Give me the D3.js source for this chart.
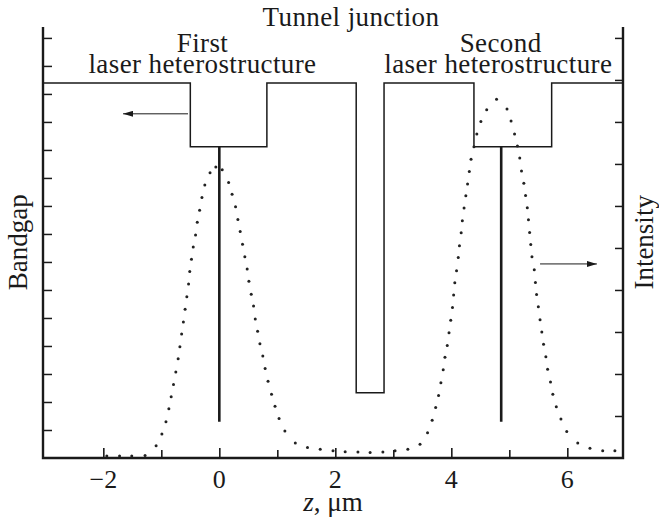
<!DOCTYPE html>
<html>
<head>
<meta charset="utf-8">
<script src="https://cdn.jsdelivr.net/npm/d3@7"></script>
<style>
body { margin: 0; background: #fff; }
text { font-family: "Liberation Serif", "Times New Roman", serif; fill: #1a1a1a; }
</style>
</head>
<body>
<script>
// bandgap profile (step corners), z in um, bandgap in arbitrary units
var bandZ = [-3.04, -0.5, -0.5, 0.82, 0.82, 2.36, 2.36, 2.84, 2.84, 4.39, 4.39, 5.73, 5.73, 6.96];
var bandE = [13.39, 13.39, 11.11, 11.11, 13.39, 13.39, 2.33, 2.33, 13.39, 13.39, 11.11, 11.11, 13.39, 13.39];

// active regions (solid vertical lines)
var wellZ = [0, 4.86];
var wellTop = 11.11, wellBottom = 1.29;

// intensity, read dot by dot
var intZ = [-1.94, -1.72, -1.51, -1.28, -1.09, -0.99, -0.92, -0.87, -0.83, -0.79, -0.75, -0.71, -0.68, -0.65, -0.62, -0.59,
    -0.56, -0.53, -0.51, -0.48, -0.45, -0.41, -0.38, -0.34, -0.30, -0.25, -0.16, -0.06, 0.05, 0.16, 0.22, 0.28, 0.32, 0.36,
    0.40, 0.44, 0.48, 0.51, 0.55, 0.59, 0.62, 0.66, 0.70, 0.75, 0.79, 0.84, 0.90, 0.96, 1.03, 1.13, 1.31, 1.52, 1.74, 1.96,
    2.17, 2.39, 2.60, 2.82, 3.03, 3.25, 3.46, 3.59, 3.67, 3.73, 3.78, 3.82, 3.86, 3.89, 3.93, 3.96, 3.99, 4.02, 4.04, 4.06,
    4.09, 4.12, 4.14, 4.17, 4.19, 4.22, 4.25, 4.28, 4.31, 4.34, 4.39, 4.44, 4.51, 4.61, 4.78, 4.96, 5.03, 5.09, 5.14, 5.18,
    5.21, 5.25, 5.28, 5.31, 5.33, 5.35, 5.37, 5.39, 5.43, 5.45, 5.47, 5.50, 5.53, 5.56, 5.59, 5.63, 5.66, 5.71, 5.75, 5.81,
    5.89, 5.99, 6.18, 6.39, 6.61, 6.82];
var intI = [0.05, 0.05, 0.05, 0.06, 0.29, 0.57, 0.86, 1.17, 1.46, 1.75, 2.05, 2.36, 2.65, 2.95, 3.24, 3.54,
    3.84, 4.14, 4.44, 4.73, 5.02, 5.31, 5.61, 5.90, 6.20, 6.50, 6.79, 6.93, 6.86, 6.56, 6.28, 5.98, 5.68, 5.39,
    5.09, 4.79, 4.50, 4.21, 3.90, 3.62, 3.31, 3.02, 2.72, 2.43, 2.13, 1.83, 1.52, 1.23, 0.94, 0.64, 0.36, 0.25, 0.21, 0.17,
    0.15, 0.14, 0.13, 0.14, 0.17, 0.21, 0.33, 0.60, 0.90, 1.20, 1.49, 1.79, 2.10, 2.40, 2.68, 2.98, 3.28, 3.58, 3.88, 4.17,
    4.46, 4.77, 5.05, 5.36, 5.65, 5.95, 6.24, 6.52, 6.82, 7.11, 7.41, 7.71, 8.01, 8.29, 8.54, 8.31, 8.02, 7.71, 7.43, 7.14,
    6.83, 6.54, 6.25, 5.96, 5.67, 5.37, 5.08, 4.79, 4.48, 4.18, 3.89, 3.60, 3.29, 3.00, 2.71, 2.41, 2.11, 1.81, 1.52, 1.22,
    0.93, 0.63, 0.36, 0.23, 0.17, 0.17];

var xTicks = [-2, -1, 0, 1, 2, 3, 4, 5, 6];
var xLabels = [-2, 0, 2, 4, 6];
var bandTicks = d3.range(1, 16);
var intTicks = d3.range(1, 11);

var width = 659, height = 523;
var margin = {top: 27, right: 36, bottom: 65, left: 43};

var svg = d3.select("body").append("svg")
    .attr("width", width)
    .attr("height", height);

var x = d3.scaleLinear().domain([-3.04, 6.96]).range([margin.left, width - margin.right]);
var yBand = d3.scaleLinear().domain([0, 15.39]).range([height - margin.bottom, margin.top]);
var yInt = d3.scaleLinear().domain([0, 10.26]).range([height - margin.bottom, margin.top]);

var ink = "#1a1a1a";
var fs = "27px";

// axes
var bottom = svg.append("g")
    .attr("transform", "translate(0," + (height - margin.bottom) + ")")
    .call(d3.axisBottom(x).tickValues(xTicks).tickSize(0).tickFormat(""));
bottom.select(".domain").remove();
bottom.selectAll(".tick line")
    .attr("y2", d => d % 2 === 0 ? -10 : -8)
    .attr("stroke", ink).attr("stroke-width", 1.6);

var left = svg.append("g")
    .attr("transform", "translate(" + margin.left + ",0)")
    .call(d3.axisLeft(yBand).tickValues(bandTicks).tickSizeInner(-9).tickSizeOuter(0).tickFormat(""));
left.select(".domain").remove();
left.selectAll(".tick line").attr("stroke", ink).attr("stroke-width", 1.5);

var right = svg.append("g")
    .attr("transform", "translate(" + (width - margin.right) + ",0)")
    .call(d3.axisRight(yInt).tickValues(intTicks).tickSizeInner(-8).tickSizeOuter(0).tickFormat(""));
right.select(".domain").remove();
right.selectAll(".tick line").attr("stroke", ink).attr("stroke-width", 1.5);

// frame lines (left, bottom, right)
svg.append("path")
    .attr("d", "M" + x(-3.04) + "," + yBand(15.39) + "V" + yBand(0) + "H" + x(6.96) + "V" + yBand(15.39))
    .attr("fill", "none")
    .attr("stroke", ink)
    .attr("stroke-width", 2.4);

svg.append("g").selectAll("text")
    .data(xLabels)
    .enter().append("text")
    .attr("x", d => x(d))
    .attr("y", height - margin.bottom + 30)
    .attr("text-anchor", "middle")
    .style("font-size", "26px")
    .text(d => d < 0 ? "\u2212" + Math.abs(d) : d);

// bandgap profile
var bandPts = bandZ.map((z, i) => [x(z), yBand(bandE[i])]);
svg.append("path")
    .attr("d", d3.line()(bandPts))
    .attr("fill", "none")
    .attr("stroke", ink)
    .attr("stroke-width", 1.5);

// active layers
svg.append("g").selectAll("line")
    .data(wellZ)
    .enter().append("line")
    .attr("x1", d => x(d)).attr("x2", d => x(d))
    .attr("y1", yBand(wellTop)).attr("y2", yBand(wellBottom))
    .attr("stroke", ink)
    .attr("stroke-width", 2.6);

// intensity dots
svg.append("g").selectAll("circle")
    .data(intZ.map((z, i) => ({z: z, v: intI[i]})))
    .enter().append("circle")
    .attr("cx", d => x(d.z))
    .attr("cy", d => yInt(d.v))
    .attr("r", 1.5)
    .attr("fill", "#222");

// arrows
svg.append("defs").append("marker")
    .attr("id", "head")
    .attr("viewBox", "0 0 10 6")
    .attr("refX", 10).attr("refY", 3)
    .attr("markerWidth", 10).attr("markerHeight", 6)
    .attr("markerUnits", "userSpaceOnUse")
    .attr("orient", "auto")
    .append("path")
    .attr("d", "M0,0L10,3L0,6z")
    .attr("fill", ink);

svg.append("line")
    .attr("x1", x(-0.54)).attr("x2", x(-1.66))
    .attr("y1", yBand(12.29)).attr("y2", yBand(12.29))
    .attr("stroke", ink).attr("stroke-width", 1)
    .attr("marker-end", "url(#head)");

svg.append("line")
    .attr("x1", x(5.53)).attr("x2", x(6.51))
    .attr("y1", yInt(4.62)).attr("y2", yInt(4.62))
    .attr("stroke", ink).attr("stroke-width", 1)
    .attr("marker-end", "url(#head)");

// annotations
var note = function (z, y, txt) {
    svg.append("text")
        .attr("x", x(z)).attr("y", y)
        .attr("text-anchor", "middle")
        .style("font-size", fs)
        .style("letter-spacing", "0.4px")
        .text(txt);
};
note(2.27, 26, "Tunnel junction");
note(-0.29, 52, "First");
note(-0.29, 73, "laser heterostructure");
note(4.85, 52, "Second");
note(4.81, 73, "laser heterostructure");

// axis titles
svg.append("text")
    .attr("transform", "translate(27," + yBand(7.7) + ") rotate(-90)")
    .attr("text-anchor", "middle")
    .style("font-size", fs)
    .text("Bandgap");

svg.append("text")
    .attr("transform", "translate(653," + yBand(7.7) + ") rotate(-90)")
    .attr("text-anchor", "middle")
    .style("font-size", fs)
    .text("Intensity");

var xt = svg.append("text")
    .attr("x", x(1.96))
    .attr("y", 511)
    .attr("text-anchor", "middle")
    .style("font-size", fs);
xt.append("tspan").style("font-style", "italic").text("z");
xt.append("tspan").text(", \u03bcm");
</script>
</body>
</html>
